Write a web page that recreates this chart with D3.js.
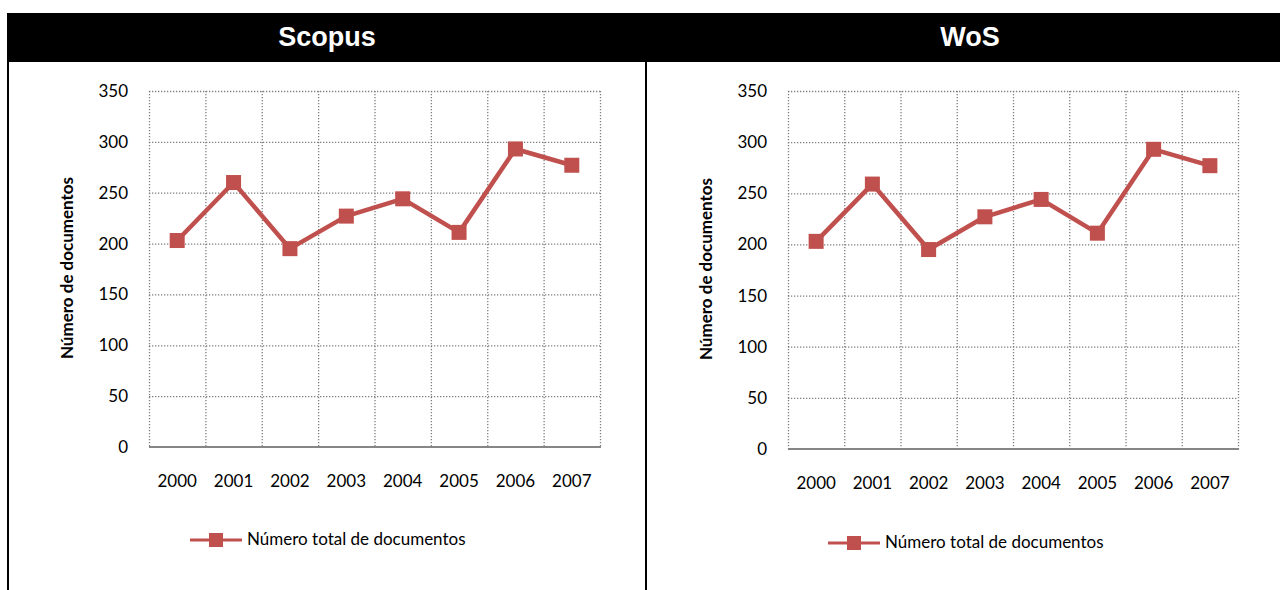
<!DOCTYPE html>
<html>
<head>
<meta charset="utf-8">
<script src="https://cdn.jsdelivr.net/npm/d3@7"></script>
<style>
  body { margin: 0; background: #fff; }
  svg { display: block; }
  text { font-family: Lato, "Open Sans", sans-serif; }
</style>
</head>
<body>
<div id="chart"></div>
<script>
// data
var years = ["2000", "2001", "2002", "2003", "2004", "2005", "2006", "2007"]
var scopusDocs = [203, 260, 195, 227, 244, 211, 293, 277]
var wosDocs = [203, 259, 195, 227, 244, 211, 293, 277]
var yTicks = [0, 50, 100, 150, 200, 250, 300, 350]
var panelTitles = ["Scopus", "WoS"]
var seriesName = "Número total de documentos"
var yTitle = "Número de documentos"

var W = 1280, H = 590
var red = "#C0504D"

var svg = d3.select("#chart").append("svg")
    .attr("width", W)
    .attr("height", H)

// header band
svg.append("rect")
    .attr("x", 7).attr("y", 13)
    .attr("width", W - 7).attr("height", 49)
    .attr("fill", "#000")

// frame lines
svg.append("line").attr("x1", 8).attr("x2", 8).attr("y1", 62).attr("y2", H)
    .attr("stroke", "#000").attr("stroke-width", 2)
svg.append("line").attr("x1", 646).attr("x2", 646).attr("y1", 62).attr("y2", H)
    .attr("stroke", "#000").attr("stroke-width", 2)

var panels = [
    { title: panelTitles[0], values: scopusDocs, cx: 327, left: 149, right: 600, top: 91, bottom: 447, yLab: 69, legY: 540, legX: 190 },
    { title: panelTitles[1], values: wosDocs, cx: 970, left: 788, right: 1238, top: 91, bottom: 449, yLab: 708, legY: 543, legX: 828 }
]

panels.forEach(function (p) {
    svg.append("text")
        .attr("x", p.cx).attr("y", 39)
        .attr("text-anchor", "middle")
        .attr("dominant-baseline", "middle")
        .style("font-family", "'Liberation Sans', Arial, sans-serif")
        .style("font-weight", "bold")
        .style("font-size", "27px")
        .attr("fill", "#fff")
        .text(p.title)

    var x = d3.scaleBand().domain(years).range([p.left, p.right]).padding(0)
    var y = d3.scaleLinear().domain([0, 350]).range([p.bottom, p.top])

    var g = svg.append("g")

    // horizontal gridlines
    g.selectAll(".hg").data(yTicks.filter(function (d) { return d > 0 })).enter()
        .append("line")
        .attr("x1", p.left).attr("x2", p.right)
        .attr("y1", function (d) { return y(d) + 0.5 })
        .attr("y2", function (d) { return y(d) + 0.5 })
        .attr("stroke", "#7f7f7f")
        .attr("stroke-width", 1.3)
        .attr("stroke-dasharray", "1.3,1.7")

    // vertical gridlines at category boundaries
    var bounds = years.map(function (d) { return x(d) }).concat([p.right])
    g.selectAll(".vg").data(bounds).enter()
        .append("line")
        .attr("x1", function (d) { return d + 0.5 }).attr("x2", function (d) { return d + 0.5 })
        .attr("y1", p.top).attr("y2", p.bottom)
        .attr("stroke", "#7f7f7f")
        .attr("stroke-width", 1.3)
        .attr("stroke-dasharray", "1.3,1.7")

    // bottom axis line
    g.append("line")
        .attr("x1", p.left).attr("x2", p.right + 1)
        .attr("y1", p.bottom).attr("y2", p.bottom)
        .attr("stroke", "#868686").attr("stroke-width", 2)

    // y tick labels
    var yAxis = d3.axisLeft(y).tickValues(yTicks).tickSize(0).tickPadding(21)
    var ya = g.append("g").attr("transform", "translate(" + p.left + ",0)").call(yAxis)
    ya.select(".domain").remove()
    ya.selectAll("text").style("font-size", "17px").style("font-family", "Lato, sans-serif").attr("fill", "#000")

    // x tick labels
    var xAxis = d3.axisBottom(x).tickSize(0).tickPadding(28)
    var xa = g.append("g").attr("transform", "translate(0," + p.bottom + ")").call(xAxis)
    xa.select(".domain").remove()
    xa.selectAll("text").style("font-size", "17px").style("font-family", "Lato, sans-serif").attr("fill", "#000")

    // y title
    g.append("text")
        .attr("transform", "translate(" + p.yLab + "," + ((p.top + p.bottom) / 2 - 1) + ") rotate(-90)")
        .attr("text-anchor", "middle")
        .attr("dominant-baseline", "middle")
        .style("font-weight", "bold")
        .style("font-size", "17px")
        .text(yTitle)

    // series line
    var line = d3.line()
        .x(function (d, i) { return x(years[i]) + x.bandwidth() / 2 })
        .y(function (d) { return y(d) })
    g.append("path")
        .datum(p.values)
        .attr("d", line)
        .attr("fill", "none")
        .attr("stroke", red)
        .attr("stroke-width", 4.5)
        .attr("stroke-linejoin", "round")

    var ms = 15
    g.selectAll(".mk").data(p.values).enter()
        .append("rect")
        .attr("x", function (d, i) { return x(years[i]) + x.bandwidth() / 2 - ms / 2 })
        .attr("y", function (d) { return y(d) - ms / 2 })
        .attr("width", ms).attr("height", ms)
        .attr("fill", red)

    // legend
    var lg = g.append("g").attr("transform", "translate(" + p.legX + "," + p.legY + ")")
    lg.append("line").attr("x1", 0).attr("x2", 52).attr("y1", 0).attr("y2", 0)
        .attr("stroke", red).attr("stroke-width", 3)
    lg.append("rect").attr("x", 26 - 7).attr("y", -7).attr("width", 14).attr("height", 14).attr("fill", red)
    lg.append("text").attr("x", 57).attr("y", 1)
        .attr("dominant-baseline", "middle")
        .style("font-size", "17px")
        .text(seriesName)
})
</script>
</body>
</html>
